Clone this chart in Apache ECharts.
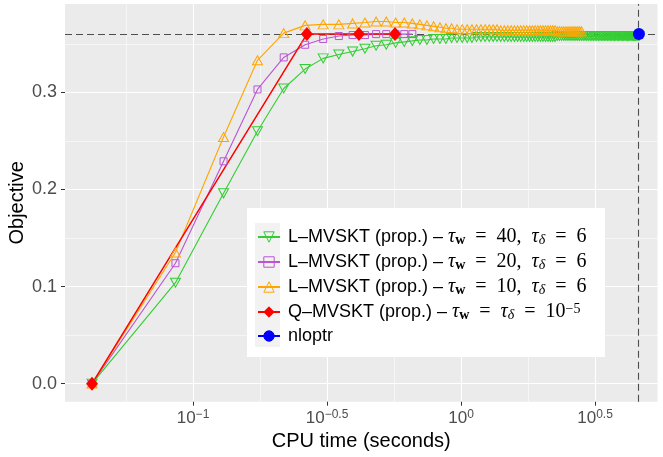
<!DOCTYPE html>
<html>
<head>
<meta charset="utf-8">
<script src="https://cdn.jsdelivr.net/npm/echarts@6/dist/echarts.min.js"></script>
<style>
  html, body { margin: 0; padding: 0; background: #ffffff; }
  #chart { width: 663px; height: 457px; }
</style>
</head>
<body>
<div id="chart"></div>
<script>
// CPU time (seconds) of each iteration of the L-MVSKT runs
const cpuTime = [
  0.042, 0.086, 0.130, 0.174, 0.218, 0.262, 0.306, 0.350, 0.394, 0.438,
  0.482, 0.526, 0.570, 0.614, 0.658, 0.702, 0.746, 0.790, 0.834, 0.878,
  0.922, 0.966, 1.010, 1.054, 1.098, 1.142, 1.186, 1.230, 1.274, 1.318,
  1.362, 1.406, 1.450, 1.494, 1.538, 1.582, 1.626, 1.670, 1.714, 1.758,
  1.802, 1.846, 1.890, 1.934, 1.978, 2.022, 2.066, 2.110, 2.154, 2.198,
  2.242, 2.286, 2.330, 2.374, 2.418, 2.462, 2.506, 2.550, 2.594, 2.638,
  2.682, 2.726, 2.770, 2.814, 2.858, 2.902, 2.946, 2.990, 3.034, 3.078,
  3.122, 3.166, 3.210, 3.254, 3.298, 3.342, 3.386, 3.430, 3.474, 3.518,
  3.562, 3.606, 3.650, 3.694, 3.738, 3.782, 3.826, 3.870, 3.914, 3.958,
  4.002, 4.046, 4.090, 4.134, 4.178, 4.222, 4.266, 4.310, 4.354, 4.398,
  4.442, 4.486, 4.530, 4.574, 4.618
];

// Objective per iteration, tau_w = 40
const objL40 = [
  0.000, 0.104, 0.196, 0.260, 0.304, 0.324, 0.335, 0.339, 0.342, 0.345,
  0.348, 0.349, 0.351, 0.352, 0.353, 0.354, 0.354, 0.355, 0.355, 0.355,
  0.356, 0.356, 0.356, 0.356, 0.356, 0.357, 0.357, 0.357, 0.357, 0.357,
  0.357, 0.357, 0.357, 0.357, 0.357, 0.357, 0.357, 0.357, 0.357, 0.357,
  0.357, 0.357, 0.357, 0.357, 0.357, 0.357, 0.357, 0.357, 0.357, 0.357,
  0.357, 0.358, 0.358, 0.358, 0.358, 0.358, 0.358, 0.358, 0.358, 0.358,
  0.358, 0.358, 0.358, 0.358, 0.358, 0.358, 0.358, 0.358, 0.358, 0.358,
  0.358, 0.358, 0.358, 0.358, 0.358, 0.358, 0.358, 0.358, 0.358, 0.358,
  0.358, 0.358, 0.358, 0.358, 0.358, 0.358, 0.358, 0.358, 0.358, 0.358,
  0.358, 0.358, 0.358, 0.358, 0.358, 0.358, 0.358, 0.358, 0.358, 0.358,
  0.358, 0.358, 0.358, 0.358, 0.358
];

// Objective per iteration, tau_w = 20
const objL20 = [
  0.000, 0.124, 0.229, 0.303, 0.336, 0.349, 0.355, 0.358, 0.359, 0.359,
  0.360, 0.360, 0.360, 0.360, 0.360
];

// Objective per iteration, tau_w = 10
const objL10 = [
  0.000, 0.135, 0.254, 0.333, 0.361, 0.369, 0.370, 0.370, 0.371, 0.372,
  0.373, 0.373, 0.372, 0.372, 0.371, 0.370, 0.369, 0.368, 0.367, 0.366,
  0.366, 0.365, 0.365, 0.365, 0.365, 0.365, 0.365, 0.365, 0.365, 0.365,
  0.365, 0.364, 0.364, 0.364, 0.364, 0.364, 0.364, 0.364, 0.364, 0.364,
  0.364, 0.364, 0.364, 0.364, 0.364, 0.364, 0.364, 0.364, 0.364, 0.364,
  0.364, 0.363, 0.363, 0.363, 0.363, 0.363, 0.363, 0.363, 0.363, 0.363,
  0.363, 0.363, 0.363, 0.363
];

// Q-MVSKT iterations
const timeQ = [0.042, 0.266, 0.416, 0.567];
const objQ = [0.000, 0.360, 0.360, 0.360];

// nloptr solution
const timeNlopt = [4.61];
const objNlopt = [0.360];

// Reference lines
const refObjective = 0.36;
const refTime = 4.61;

// Axis ticks (x in log10 seconds)
const xTickExps = [-1, -0.5, 0, 0.5];
const xMinorExps = [-1.25, -0.75, -0.25, 0.25];
const yTicks = [0, 0.1, 0.2, 0.3];
const yMinor = [0.05, 0.15, 0.25, 0.35];

const seriesNames = [
  'L–MVSKT (prop.) – τw = 40, τδ = 6',
  'L–MVSKT (prop.) – τw = 20, τδ = 6',
  'L–MVSKT (prop.) – τw = 10, τδ = 6',
  'Q–MVSKT (prop.) – τw = τδ = 10^−5',
  'nloptr'
];

// Rich-text legend labels (math set in a serif face)
const legendLabels = {
  [seriesNames[0]]: '{h|L–MVSKT (prop.) – }{m|τ}{w|w}{r|  =  40,  }{m|τ}{d|δ}{r|  =  6}',
  [seriesNames[1]]: '{h|L–MVSKT (prop.) – }{m|τ}{w|w}{r|  =  20,  }{m|τ}{d|δ}{r|  =  6}',
  [seriesNames[2]]: '{h|L–MVSKT (prop.) – }{m|τ}{w|w}{r|  =  10,  }{m|τ}{d|δ}{r|  =  6}',
  [seriesNames[3]]: '{h|Q–MVSKT (prop.) – }{m|τ}{w|w}{r|  =  }{m|τ}{d|δ}{r|  =  10}{p|−5}',
  [seriesNames[4]]: '{h|nloptr}'
};

const SANS = '"Liberation Sans", Arial, Helvetica, sans-serif';
const SERIF = '"Liberation Serif", "Times New Roman", serif';

function toPairs(times, values) {
  return values.map((v, i) => [Math.log10(times[i]), v]);
}

const hollow = 'rgba(0,0,0,0)';
const triUp = 'path://M5,0 L10,10 L0,10 Z';
const triDown = 'path://M0,0 L10,0 L5,10 Z';
const square = 'path://M0,0 L10,0 L10,10 L0,10 Z';

const xMin = -1.4776, xMax = 0.733;
const yMin = -0.0186, yMax = 0.391;

const chart = echarts.init(document.getElementById('chart'), null, { renderer: 'canvas' });

chart.setOption({
  animation: false,
  textStyle: { fontFamily: SANS },
  grid: {
    left: 65, right: 5.5, top: 4, bottom: 55.3,
    containLabel: false, outerBoundsMode: 'none',
    show: true, backgroundColor: '#EBEBEB', borderWidth: 0
  },
  xAxis: [
    {
      type: 'value', min: xMin, max: xMax, position: 'bottom',
      axisLine: { show: false, onZero: false },
      axisTick: { show: true, length: 4, lineStyle: { color: '#333333', width: 1 }, customValues: xTickExps },
      axisLabel: {
        customValues: xTickExps, margin: 7, color: '#4D4D4D',
        formatter: v => '{b|10}{s|' + String(v).replace('-', '−') + '}',
        rich: {
          b: { fontFamily: SANS, fontSize: 17, color: '#4D4D4D', lineHeight: 20 },
          s: { fontFamily: SANS, fontSize: 12, color: '#4D4D4D', lineHeight: 6, verticalAlign: 'top' }
        }
      },
      splitLine: { show: true, lineStyle: { color: '#FFFFFF', width: 1.1 } },
      name: 'CPU time (seconds)', nameLocation: 'middle', nameGap: 30, nameMoveOverlap: false,
      nameTextStyle: { fontFamily: SANS, fontSize: 20, color: '#000000' }
    },
    {
      type: 'value', min: xMin, max: xMax, position: 'top',
      axisLine: { show: false, onZero: false },
      axisTick: { show: false, customValues: xMinorExps },
      axisLabel: { show: false, customValues: xMinorExps },
      splitLine: { show: true, lineStyle: { color: '#FFFFFF', width: 0.55 } }
    }
  ],
  yAxis: [
    {
      type: 'value', min: yMin, max: yMax, position: 'left',
      axisLine: { show: false, onZero: false },
      axisTick: { show: true, length: 4, lineStyle: { color: '#333333', width: 1 }, customValues: yTicks },
      axisLabel: {
        customValues: yTicks, margin: 8, color: '#4D4D4D',
        fontFamily: SANS, fontSize: 18,
        formatter: v => v.toFixed(1)
      },
      splitLine: { show: true, lineStyle: { color: '#FFFFFF', width: 1.1 } },
      name: 'Objective', nameLocation: 'middle', nameGap: 38, nameMoveOverlap: false,
      nameTextStyle: { fontFamily: SANS, fontSize: 20, color: '#000000' }
    },
    {
      type: 'value', min: yMin, max: yMax, position: 'right',
      axisLine: { show: false, onZero: false },
      axisTick: { show: false, customValues: yMinor },
      axisLabel: { show: false, customValues: yMinor },
      splitLine: { show: true, lineStyle: { color: '#FFFFFF', width: 0.55 } }
    }
  ],
  legend: {
    orient: 'vertical', left: 257, top: 227, padding: 0, z: 20,
    itemWidth: 22, itemHeight: 13, itemGap: 5,
    selectedMode: false,
    data: seriesNames,
    itemStyle: { borderWidth: 1 },
    formatter: name => legendLabels[name],
    textStyle: {
      rich: {
        h: { fontFamily: SANS, fontSize: 18, color: '#000', lineHeight: 20, padding: [0, 0, 0, 3] },
        m: { fontFamily: SERIF, fontStyle: 'italic', fontSize: 20, color: '#000', lineHeight: 20 },
        r: { fontFamily: SERIF, fontSize: 20, color: '#000', lineHeight: 20 },
        w: { fontFamily: SERIF, fontWeight: 'bold', fontSize: 14, color: '#000', lineHeight: 12, verticalAlign: 'bottom' },
        d: { fontFamily: SERIF, fontStyle: 'italic', fontSize: 14, color: '#000', lineHeight: 12, verticalAlign: 'bottom' },
        p: { fontFamily: SERIF, fontSize: 14, color: '#000', lineHeight: 12, verticalAlign: 'top' }
      }
    }
  },
  graphic: [
    { type: 'rect', z: 10, shape: { x: 247, y: 208, width: 358, height: 149 }, style: { fill: '#FFFFFF' } },
    { type: 'rect', z: 11, shape: { x: 255, y: 223, width: 25, height: 124 }, style: { fill: '#F2F2F2' } }
  ],
  series: [
    {
      name: seriesNames[0], type: 'line', data: toPairs(cpuTime, objL40),
      symbol: triDown, symbolSize: [10, 9],
      lineStyle: { color: '#32CD32', width: 1.1 },
      itemStyle: { color: hollow, borderColor: '#32CD32', borderWidth: 1 },
      markLine: {
        silent: true, z: 1, symbol: ['none', 'none'], label: { show: false },
        lineStyle: { type: [7, 4], color: '#4D4D4D', width: 1.1 },
        data: [{ yAxis: refObjective }, { xAxis: Math.log10(refTime) }]
      }
    },
    {
      name: seriesNames[1], type: 'line', data: toPairs(cpuTime, objL20),
      symbol: square, symbolSize: [7, 7],
      lineStyle: { color: '#BA55D3', width: 1.1 },
      itemStyle: { color: hollow, borderColor: '#BA55D3', borderWidth: 1 }
    },
    {
      name: seriesNames[2], type: 'line', data: toPairs(cpuTime, objL10),
      symbol: triUp, symbolSize: [10, 9],
      lineStyle: { color: '#FFA500', width: 1.1 },
      itemStyle: { color: hollow, borderColor: '#FFA500', borderWidth: 1 }
    },
    {
      name: seriesNames[3], type: 'line', data: toPairs(timeQ, objQ),
      symbol: 'diamond', symbolSize: [12, 14],
      lineStyle: { color: '#FF0000', width: 1.5 },
      itemStyle: { color: '#FF0000', borderColor: '#FF0000', borderWidth: 0 }
    },
    {
      name: seriesNames[4], type: 'line', data: toPairs(timeNlopt, objNlopt),
      symbol: 'circle', symbolSize: 12,
      lineStyle: { color: '#0000FF', width: 1.5 },
      itemStyle: { color: '#0000FF', borderColor: '#0000FF', borderWidth: 0 }
    }
  ]
});
</script>
</body>
</html>
